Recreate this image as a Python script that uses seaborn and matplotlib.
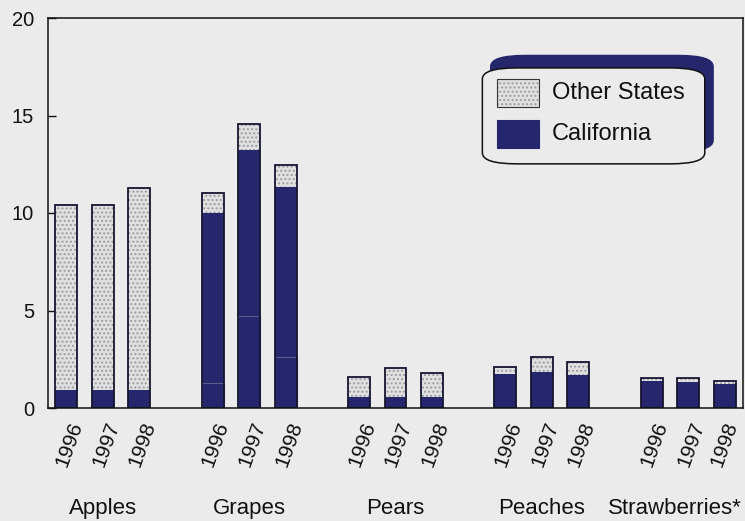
import numpy as np
import pandas as pd
import matplotlib
matplotlib.use("Agg")
import matplotlib.pyplot as plt
import matplotlib.transforms as mtransforms
from matplotlib.patches import FancyBboxPatch, Rectangle
import seaborn as sns

# ---- data ----
categories = ["Apples", "Grapes", "Pears", "Peaches", "Strawberries*"]
years = ["1996", "1997", "1998"]
total = [10.4, 10.4, 11.3,
         11.05, 14.55, 12.45,
         1.58, 2.03, 1.78,
         2.09, 2.62, 2.38,
         1.53, 1.53, 1.39]
california = [0.92, 0.92, 0.9,
              10.0, 13.25, 11.32,
              0.57, 0.57, 0.55,
              1.75, 1.84, 1.70,
              1.37, 1.32, 1.24]
# faint subdivision seen inside the California grape bars
california_inner = [0, 0, 0,
                    1.3, 4.7, 2.6,
                    0, 0, 0,
                    0, 0, 0,
                    0, 0, 0]

NAVY = "#26266c"
BG = "#ebebeb"
OTHER = "#e0e0e0"

sns.set_theme(style="white")
plt.rcParams["font.family"] = ["Liberation Sans", "DejaVu Sans"]
plt.rcParams["hatch.linewidth"] = 0.9
plt.rcParams["hatch.color"] = "#9a9a9a"

rows = []
for gi, cat in enumerate(categories):
    for yi, yr in enumerate(years):
        k = gi * 3 + yi
        rows.append(dict(category=cat, year=yr, pos=gi * 4 + yi,
                         total=total[k], california=california[k],
                         inner=california_inner[k]))
df = pd.DataFrame(rows)

fig = plt.figure(figsize=(7.45, 5.21), dpi=100)
fig.patch.set_facecolor(BG)
ax = fig.add_axes([48 / 745, 113 / 521, 695 / 745, 390 / 521])
ax.set_facecolor(BG)

# Other States (stippled) = full stack height
sns.barplot(data=df, x="pos", y="total", native_scale=True, width=0.6,
            color=OTHER, saturation=1, linewidth=0, edgecolor="#9a9a9a",
            errorbar=None, ax=ax)
for p in ax.patches:
    p.set_hatch("....")
n_other = len(ax.patches)

# California
sns.barplot(data=df, x="pos", y="california", native_scale=True, width=0.6,
            color=NAVY, saturation=1, linewidth=0, errorbar=None, ax=ax)
# inner subdivision
sns.barplot(data=df, x="pos", y="inner", native_scale=True, width=0.6,
            color=NAVY, saturation=1, linewidth=0.8, edgecolor="#5a5a90",
            errorbar=None, ax=ax)
for p in ax.patches[2 * n_other:]:
    if p.get_height() <= 0:
        p.set_visible(False)
# outlines
sns.barplot(data=df, x="pos", y="total", native_scale=True, width=0.6,
            color="#151530", fill=False, linewidth=1.3, errorbar=None, ax=ax)

ax.set_xlim(-0.5, 18.5)
ax.set_ylim(0, 20)
ax.set_yticks([0, 5, 10, 15, 20])
ax.tick_params(axis="y", direction="in", length=6, width=1, pad=10,
               labelsize=14.5, colors="#111111", left=True)
ax.set_xticks(df["pos"])
ax.set_xticklabels(df["year"], rotation=70, fontsize=15, color="#111111",
                   ha="center", va="top")
ax.tick_params(axis="x", length=0, pad=8)
labels = ax.get_xticklabels()
for i, lbl in enumerate(labels):
    dx = 3 if i < len(labels) - 1 else -1
    off = mtransforms.ScaledTranslation(dx / 100, 0, fig.dpi_scale_trans)
    lbl.set_transform(lbl.get_transform() + off)
ax.set_xlabel("")
ax.set_ylabel("")
for s in ax.spines.values():
    s.set_visible(True)
    s.set_color("#111111")
    s.set_linewidth(1.1)

# category labels
trans = mtransforms.blended_transform_factory(ax.transData, ax.transAxes)
for gi, cat in enumerate(categories):
    xc = gi * 4 + 1
    if gi == len(categories) - 1:
        ax.text(0.998, -0.257, cat, transform=ax.transAxes, ha="right",
                va="center", fontsize=16, color="#111111", clip_on=False)
    else:
        ax.text(xc, -0.257, cat, transform=trans, ha="center", va="center",
                fontsize=16, color="#111111", clip_on=False)

# legend box with navy shadow
x0, y0, w, h = 0.625, 0.626, 0.32, 0.246
shadow = FancyBboxPatch((x0 + 0.012, y0 + 0.032), w, h,
                        boxstyle="round,pad=0,rounding_size=0.05",
                        transform=ax.transAxes, facecolor=NAVY,
                        edgecolor=NAVY, zorder=5, mutation_aspect=390 / 695)
box = FancyBboxPatch((x0, y0), w, h,
                     boxstyle="round,pad=0,rounding_size=0.05",
                     transform=ax.transAxes, facecolor=BG,
                     edgecolor="#111111", linewidth=1.1, zorder=6,
                     mutation_aspect=390 / 695)
ax.add_patch(shadow)
ax.add_patch(box)
hx = (497 - 48) / 695
hw = 42 / 695
hh = 28 / 390
r1 = Rectangle((hx, (408 - 107) / 390), hw, hh, transform=ax.transAxes,
               facecolor=OTHER, edgecolor="#9a9a9a", hatch="....",
               linewidth=0, zorder=7)
r1o = Rectangle((hx, (408 - 107) / 390), hw, hh, transform=ax.transAxes,
                fill=False, edgecolor="#333333", linewidth=0.8, zorder=8)
r2 = Rectangle((hx, (408 - 148) / 390), hw, hh, transform=ax.transAxes,
               facecolor=NAVY, edgecolor=NAVY, linewidth=0.8, zorder=7)
for r in (r1, r1o, r2):
    ax.add_patch(r)
tx = (552 - 48) / 695
ax.text(tx, (408 - 93) / 390, "Other States", transform=ax.transAxes,
        fontsize=17, va="center", ha="left", color="#111111", zorder=9)
ax.text(tx, (408 - 134) / 390, "California", transform=ax.transAxes,
        fontsize=17, va="center", ha="left", color="#111111", zorder=9)

fig.savefig("out.png", dpi=100, facecolor=BG)
